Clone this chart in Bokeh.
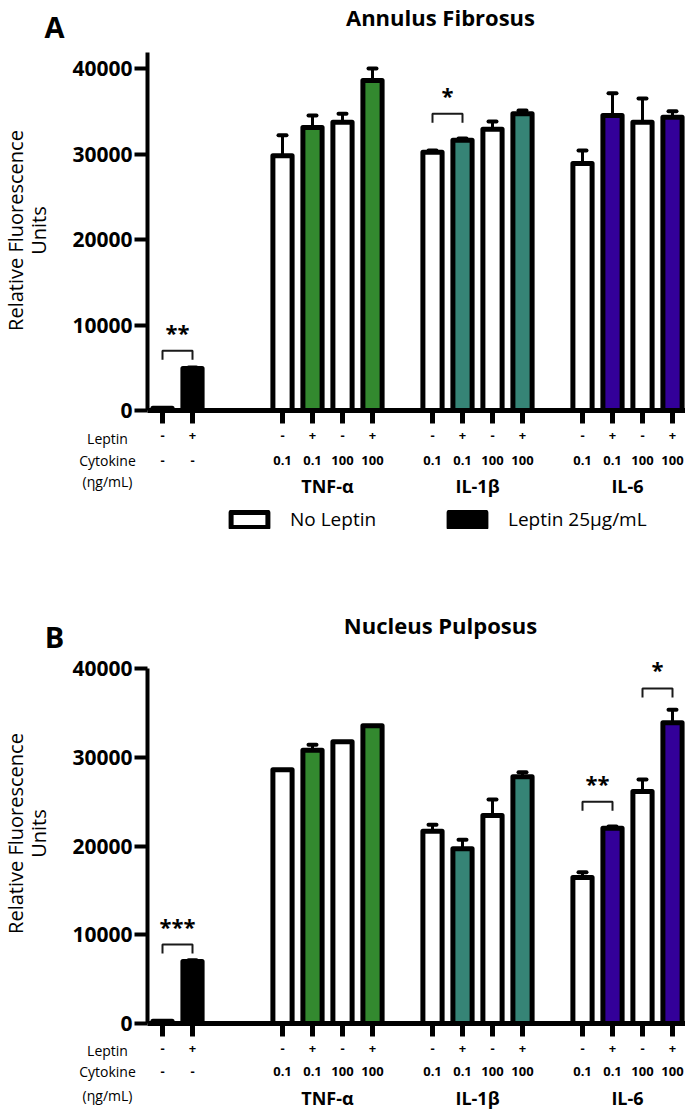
import math
from bokeh.plotting import figure
from bokeh.models import (Range1d, FixedTicker, ColumnDataSource, Label, LabelSet,
                          Legend, LegendItem, LinearAxis)
from bokeh.layouts import column
from bokeh.embed import file_html
from bokeh.resources import INLINE
from bokeh.core.properties import value

# ---------------- data ----------------
bar_x = [0, 1, 4, 5, 6, 7, 9, 10, 11, 12, 14, 15, 16, 17]
leptin_row = ["-", "+", "-", "+", "-", "+", "-", "+", "-", "+", "-", "+", "-", "+"]
cytokine_row = ["-", "-", "0.1", "0.1", "100", "100", "0.1", "0.1", "100", "100",
                "0.1", "0.1", "100", "100"]
bar_group = ["Control", "Control", "TNF-α", "TNF-α", "TNF-α", "TNF-α",
             "IL-1β", "IL-1β", "IL-1β", "IL-1β", "IL-6", "IL-6", "IL-6", "IL-6"]
group_names = ["TNF-α", "IL-1β", "IL-6"]
row_names = ["Leptin", "Cytokine", "(ηg/mL)"]
legend_labels = ["No Leptin", "Leptin 25μg/mL"]
y_ticks = [0, 10000, 20000, 30000, 40000]

af_mean = [250, 4900, 29800, 33100, 33700, 38600, 30200, 31600, 32900, 34700,
           28900, 34500, 33700, 34300]
af_sem = [0, 120, 2400, 1400, 1000, 1400, 200, 200, 900, 400, 1500, 2600, 2800, 700]
np_mean = [250, 7000, 28600, 30800, 31750, 33550, 21650, 19700, 23450, 27800,
           16450, 22000, 26150, 33900]
np_sem = [0, 120, 0, 600, 0, 0, 750, 1000, 1800, 500, 600, 200, 1350, 1450]

af_sig_left = [0, 9]
af_sig_right = [1, 10]
af_sig_y = [7000, 34700]
af_sig_text = ["**", "*"]
np_sig_left = [0, 14, 16]
np_sig_right = [1, 15, 17]
np_sig_y = [8900, 25000, 37750]
np_sig_text = ["***", "**", "*"]

# ---------------- styling ----------------
FONT = "Open Sans"
GROUP_COLORS = {"Control": "black", "TNF-α": "#33892F", "IL-1β": "#368476", "IL-6": "#330099"}
W = 685
AXIS_PAGE_X = 147   # page x of the y axis
U = 30.0            # px per x unit
X0 = -0.5


def px_to_x(page_px):
    return X0 + (page_px - AXIS_PAGE_X) / U


def panel(mean, sem, sig_l, sig_r, sig_y, sig_t, title, letter, s, top_page, base_page,
          fig_h, axis_top, title_up, letter_up, ylab_up, rows_down, with_legend):
    x_start, x_end = px_to_x(0), px_to_x(W)
    y_start = -(top_page + fig_h - base_page) / s
    y_end = (base_page - top_page) / s
    p = figure(width=W, height=fig_h, output_backend="svg", toolbar_location=None,
               x_range=Range1d(x_start, x_end), y_range=Range1d(y_start, y_end),
               x_axis_location=None, y_axis_location=None, title=None,
               min_border_left=0, min_border_right=0, min_border_top=0,
               min_border_bottom=0)
    p.outline_line_color = None
    p.background_fill_color = "white"
    p.grid.visible = False

    ya = LinearAxis(fixed_location=X0)
    ya.ticker = FixedTicker(ticks=y_ticks)
    ya.bounds = (0, axis_top)
    ya.axis_line_width = 4
    ya.axis_line_color = "black"
    ya.major_tick_line_width = 4
    ya.major_tick_line_color = "black"
    ya.major_tick_out = 13
    ya.major_tick_in = 0
    ya.minor_tick_line_color = None
    ya.major_label_text_font = FONT
    ya.major_label_text_font_style = "bold"
    ya.major_label_text_font_size = "21px"
    ya.major_label_text_color = "black"
    ya.major_label_standoff = 2
    p.add_layout(ya, "left")

    xa = LinearAxis(fixed_location=0)
    xa.ticker = FixedTicker(ticks=bar_x)
    xa.bounds = (X0, x_end)
    xa.major_label_overrides = {x: t for x, t in zip(bar_x, leptin_row)}
    xa.axis_line_width = 5
    xa.axis_line_color = "black"
    xa.major_tick_line_width = 5
    xa.major_tick_line_color = "black"
    xa.major_tick_out = 13
    xa.major_tick_in = 0
    xa.minor_tick_line_color = None
    xa.major_label_text_font = FONT
    xa.major_label_text_font_style = "bold"
    xa.major_label_text_font_size = "13px"
    xa.major_label_text_color = "black"
    xa.major_label_standoff = 7
    p.add_layout(xa, "below")

    n = len(bar_x)
    no_idx = [i for i in range(n) if leptin_row[i] == "-"]
    yes_idx = [i for i in range(n) if leptin_row[i] == "+"]
    src_no = ColumnDataSource(dict(x=[bar_x[i] for i in no_idx], top=[mean[i] for i in no_idx]))
    src_yes = ColumnDataSource(dict(x=[bar_x[i] for i in yes_idx], top=[mean[i] for i in yes_idx],
                                    color=[GROUP_COLORS[bar_group[i]] for i in yes_idx]))
    r_no = p.vbar(x="x", top="top", bottom=0, width=0.64, source=src_no,
                  fill_color="white", line_color="black", line_width=5, line_join="round")
    r_yes = p.vbar(x="x", top="top", bottom=0, width=0.64, source=src_yes,
                   fill_color="color", line_color="black", line_width=5, line_join="round")

    e_idx = [i for i in range(n) if sem[i] > 0]
    ex = [bar_x[i] for i in e_idx]
    lo = [mean[i] for i in e_idx]
    hi = [mean[i] + sem[i] for i in e_idx]
    p.segment(x0=ex, y0=lo, x1=ex, y1=hi, line_width=3, line_color="black")
    cap = 4 / U
    p.segment(x0=[x - cap for x in ex], y0=hi, x1=[x + cap for x in ex], y1=hi,
              line_width=4, line_color="black", line_cap="round")

    drop = 9 / s
    xs, ys = [], []
    for l, r, y in zip(sig_l, sig_r, sig_y):
        xs.append([l, l, r, r])
        ys.append([y - drop, y, y, y - drop])
    p.multi_line(xs=xs, ys=ys, line_width=2, line_color="#1a1a1a")
    p.text(x=[(l + r) / 2 for l, r in zip(sig_l, sig_r)], y=[y + 19 / s for y in sig_y],
           text=sig_t, text_align="center", text_baseline="alphabetic",
           text_font=value(FONT), text_font_style="bold", text_font_size="22px",
           text_color="black")

    # titles
    p.add_layout(Label(x=px_to_x(440), y=title_up / s, text=title, text_align="center",
                       text_baseline="alphabetic", text_font=FONT, text_font_style="bold",
                       text_font_size="22px", text_color="black"))
    p.add_layout(Label(x=px_to_x(54), y=letter_up / s, text=letter, text_align="center",
                       text_baseline="alphabetic", text_font=FONT, text_font_style="bold",
                       text_font_size="29px", text_color="black"))
    # y axis label (two lines)
    p.add_layout(Label(x=px_to_x(15), y=ylab_up / s, text="Relative Fluorescence",
                       angle=math.pi / 2, text_align="center", text_baseline="alphabetic",
                       text_font=FONT, text_font_size="20px", text_color="black"))
    p.add_layout(Label(x=px_to_x(38), y=ylab_up / s, text="Units",
                       angle=math.pi / 2, text_align="center", text_baseline="alphabetic",
                       text_font=FONT, text_font_size="20px", text_color="black"))

    # row names
    for name, d in zip(row_names, rows_down[:3]):
        p.add_layout(Label(x=px_to_x(107), y=-d / s, text=name, text_align="center",
                           text_baseline="middle", text_font=FONT, text_font_size="14px",
                           text_color="black"))
    # cytokine dose row
    dose_src = ColumnDataSource(dict(x=bar_x, y=[-rows_down[1] / s] * n, t=cytokine_row))
    p.add_layout(LabelSet(x="x", y="y", text="t", source=dose_src, text_align="center",
                          text_baseline="middle", text_font=value(FONT),
                          text_font_style="bold", text_font_size="13px", text_color="black"))
    # group names
    gx = []
    for g in group_names:
        members = [bar_x[i] for i in range(n) if bar_group[i] == g]
        gx.append(sum(members) / len(members))
    grp_src = ColumnDataSource(dict(x=gx, y=[-rows_down[3] / s] * len(gx), t=group_names))
    p.add_layout(LabelSet(x="x", y="y", text="t", source=grp_src, text_align="center",
                          text_baseline="middle", text_font=value(FONT),
                          text_font_style="bold", text_font_size="18px", text_color="black"))

    if with_legend:
        bottom_page = top_page + fig_h
        common = dict(orientation="horizontal", glyph_width=46, glyph_height=19,
                      label_standoff=18, padding=0, margin=0, spacing=0,
                      border_line_color=None, background_fill_alpha=0,
                      label_text_font=FONT, label_text_font_size="19px",
                      label_text_color="black")
        vy = bottom_page - 532
        leg1 = Legend(items=[LegendItem(label=legend_labels[0], renderers=[r_no], index=0)],
                      location=(226, vy), **common)
        leg2 = Legend(items=[LegendItem(label=legend_labels[1], renderers=[r_yes], index=0)],
                      location=(444, vy), **common)
        p.add_layout(leg1)
        p.add_layout(leg2)
    return p


sA = 342 / 40000
sB = 355 / 40000
pA = panel(af_mean, af_sem, af_sig_left, af_sig_right, af_sig_y, af_sig_text,
           "Annulus Fibrosus", "A", sA, top_page=0, base_page=410, fig_h=552,
           axis_top=41870, title_up=394, letter_up=384, ylab_up=180,
           rows_down=[28, 50, 71, 75], with_legend=True)
pB = panel(np_mean, np_sem, np_sig_left, np_sig_right, np_sig_y, np_sig_text,
           "Nucleus Pulposus", "B", sB, top_page=552, base_page=1023, fig_h=560,
           axis_top=40000, title_up=399, letter_up=387, ylab_up=190,
           rows_down=[27, 48, 72, 74], with_legend=False)

layout = column(pA, pB, spacing=0)
open("out.html", "w").write(file_html(layout, INLINE))
